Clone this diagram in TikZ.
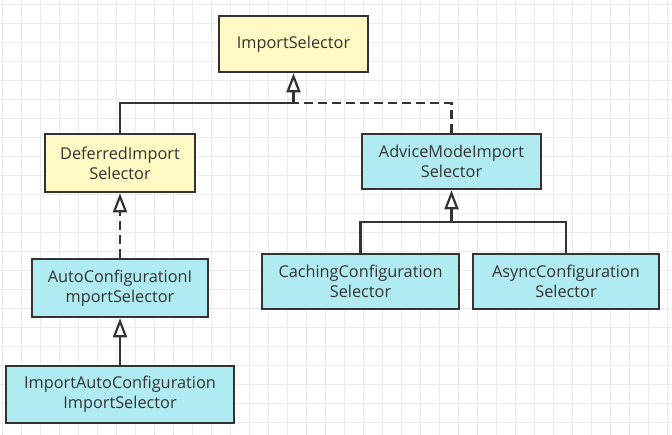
\documentclass[tikz,border=0pt]{standalone}
\usepackage{fontspec}
\setmainfont{Open Sans}
\usetikzlibrary{arrows.meta}
\definecolor{ylw}{HTML}{FFF9C4}
\definecolor{cyn}{HTML}{B0EBF1}
\definecolor{ink}{HTML}{333333}
\definecolor{gridc}{HTML}{EBEBEB}
\tikzset{
  cls/.style={draw=ink, line width=2.6pt, rectangle, inner sep=0pt, align=center,
    text=ink, font=\fontsize{16.3}{20}\selectfont},
  yel/.style={cls, fill=ylw},
  cy/.style={cls, fill=cyn},
  conn/.style={draw=ink, line width=2.5pt},
  inh/.style={conn, -{Triangle[open, length=19pt, width=14pt, fill=white, line width=2.2pt]}},
  dsh/.style={dash pattern=on 9pt off 5pt},
}
\begin{document}
\begin{tikzpicture}[x=1pt, y=-1pt]
\useasboundingbox (0,0) rectangle (672,435);
\fill[white] (0,0) rectangle (672,435);
\foreach \i in {0,...,35} {\draw[gridc, line width=0.8pt] (2.7+19*\i,0) -- (2.7+19*\i,435);}
\foreach \j in {0,...,22} {\draw[gridc, line width=0.8pt] (0,4+19*\j) -- (672,4+19*\j);}

\node[yel, minimum width=149pt, minimum height=56pt] (imp) at (293.5,44) {ImportSelector};
\node[yel, minimum width=150pt, minimum height=58pt] (def) at (120,163) {DeferredImport\\Selector};
\node[cy, minimum width=179pt, minimum height=55pt] (adv) at (451.5,161.5) {AdviceModeImport\\Selector};
\node[cy, minimum width=176pt, minimum height=58pt] (auto) at (120,288) {AutoConfigurationI\\mportSelector};
\node[cy, minimum width=228pt, minimum height=57pt] (iac) at (120,394.5) {ImportAutoConfiguration\\ImportSelector};
\node[cy, minimum width=197pt, minimum height=55pt] (cach) at (360.5,281.5) {CachingConfiguration\\Selector};
\node[cy, minimum width=186pt, minimum height=55pt] (async) at (566,281.5) {AsyncConfiguration\\Selector};

\coordinate (j1) at (293.5,103);
\coordinate (j2) at (451.5,222);

\draw[conn] (def.north) |- (j1);
\draw[conn, dsh] (adv.north) |- (j1);
\draw[inh] (j1) -- (imp.south);
\draw[inh, dsh] (auto.north) -- (def.south);
\draw[inh] (iac.north) -- (auto.south);
\draw[conn] (cach.north) |- (j2) -| (async.north);
\draw[inh] (j2) -- (adv.south);
\end{tikzpicture}
\end{document}
